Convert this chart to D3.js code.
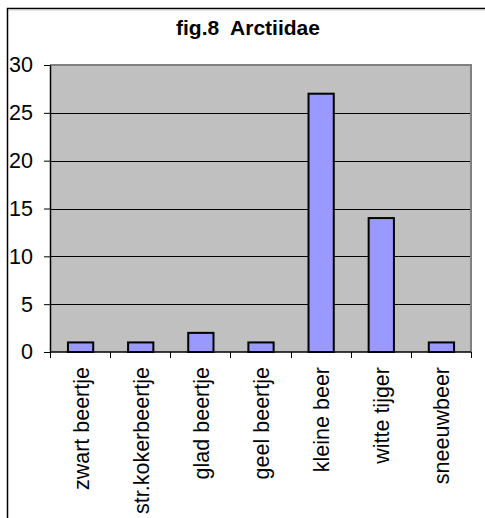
<!DOCTYPE html>
<html lang="nl">
<head>
    <meta charset="UTF-8">
    <script src="https://d3js.org/d3.v7.min.js"></script>
    <title>fig.8 Arctiidae</title>
    <style>
        body { margin: 0; background: #fff; }
        text { font-family: Arial, "Liberation Sans", sans-serif; }
    </style>
</head>
<body>
<script>
    // Data
    const categories = ["zwart beertje", "str.kokerbeertje", "glad beertje", "geel beertje",
        "kleine beer", "witte tijger", "sneeuwbeer"];
    const counts = [1, 1, 2, 1, 27, 14, 1];
    const yTicks = [0, 5, 10, 15, 20, 25, 30];
    const title = "fig.8  Arctiidae";

    const W = 485, H = 518;
    const plot = {left: 50, right: 471, top: 65, bottom: 352};

    const svg = d3.select("body").append("svg")
        .attr("width", W)
        .attr("height", H);

    // chart frame (top + left only visible)
    svg.append("path")
        .attr("d", "M7.5," + H + "V8.5H" + W)
        .attr("fill", "none")
        .attr("stroke", "#000")
        .attr("stroke-width", 1.5);
    svg.append("line")
        .attr("x1", 9).attr("x2", W)
        .attr("y1", 10).attr("y2", 10)
        .attr("stroke", "#c8c8c8");

    // title
    svg.append("text")
        .attr("x", 248)
        .attr("y", 35)
        .attr("text-anchor", "middle")
        .attr("font-size", 21)
        .attr("font-weight", "bold")
        .style("white-space", "pre")
        .text(title);

    // scales
    const x = d3.scaleBand()
        .domain(categories)
        .range([plot.left, plot.right])
        .padding(0);
    const y = d3.scaleLinear()
        .domain([0, 30])
        .range([plot.bottom, plot.top]);

    // plot background
    svg.append("rect")
        .attr("x", plot.left)
        .attr("y", plot.top)
        .attr("width", plot.right - plot.left)
        .attr("height", plot.bottom - plot.top)
        .attr("fill", "#c0c0c0");

    // gridlines
    svg.append("g")
        .selectAll("line")
        .data(yTicks.filter(d => d > 0 && d < 30))
        .enter().append("line")
        .attr("x1", plot.left).attr("x2", plot.right)
        .attr("y1", d => Math.round(y(d)) + 0.5)
        .attr("y2", d => Math.round(y(d)) + 0.5)
        .attr("stroke", "#000")
        .attr("stroke-width", 1);

    // plot border (top/right, grey)
    svg.append("path")
        .attr("d", "M" + plot.left + "," + plot.top + "H" + plot.right + "V" + plot.bottom)
        .attr("fill", "none")
        .attr("stroke", "#808080")
        .attr("stroke-width", 2);

    // bars
    const barW = x.bandwidth() * 0.42;
    svg.selectAll(".bar")
        .data(counts)
        .enter().append("rect")
        .attr("class", "bar")
        .attr("x", (d, i) => x(categories[i]) + x.bandwidth() / 2 - barW / 2 + 0.5)
        .attr("width", barW)
        .attr("y", d => y(d))
        .attr("height", d => y(0) - y(d))
        .attr("fill", "#9999ff")
        .attr("stroke", "#000")
        .attr("stroke-width", 2);

    // y axis
    const yAxis = svg.append("g")
        .attr("transform", "translate(" + plot.left + ",0)")
        .call(d3.axisLeft(y).tickValues(yTicks).tickSize(6).tickPadding(11).tickSizeOuter(0));
    yAxis.select(".domain").attr("stroke", "#000").attr("stroke-width", 1.5);
    yAxis.selectAll("text")
        .attr("font-size", 21.5)
        .attr("fill", "#000")
        .attr("font-family", "Arial, 'Liberation Sans', sans-serif");

    // x axis with ticks on category boundaries
    const xAxis = svg.append("g")
        .attr("transform", "translate(0," + plot.bottom + ")");
    xAxis.append("line")
        .attr("x1", plot.left).attr("x2", plot.right)
        .attr("stroke", "#000")
        .attr("stroke-width", 1.5);
    xAxis.selectAll(".tick")
        .data(categories.concat([null]))
        .enter().append("line")
        .attr("class", "tick")
        .attr("x1", (d, i) => Math.round(plot.left + i * x.step()) + 0.5)
        .attr("x2", (d, i) => Math.round(plot.left + i * x.step()) + 0.5)
        .attr("y1", 0).attr("y2", 6)
        .attr("stroke", "#000");
    xAxis.selectAll(".label")
        .data(categories)
        .enter().append("text")
        .attr("class", "label")
        .attr("transform", d => "translate(" + (x(d) + x.bandwidth() / 2 + 1) + ",15) rotate(-90)")
        .attr("dy", "0.35em")
        .attr("text-anchor", "end")
        .attr("font-size", 21.5)
        .text(d => d);
</script>
</body>
</html>
